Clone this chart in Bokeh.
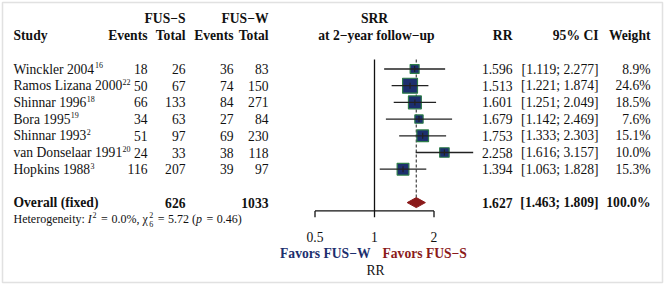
import math
from bokeh.plotting import figure
from bokeh.models import Range1d, LinearScale, ColumnDataSource, BoxAnnotation
from bokeh.core.properties import value
from bokeh.embed import file_html
from bokeh.resources import INLINE

# ---------------- data ----------------
studies = ["Winckler 2004", "Ramos Lizana 2000", "Shinnar 1996", "Bora 1995",
           "Shinnar 1993", "van Donselaar 1991", "Hopkins 1988"]
refs = ["16", "22", "18", "19", "2", "20", "3"]
s_events = [18, 50, 66, 34, 51, 24, 116]
s_total = [26, 67, 133, 63, 97, 33, 207]
w_events = [36, 74, 84, 27, 69, 38, 39]
w_total = [83, 150, 271, 84, 230, 118, 97]
rr = [1.596, 1.513, 1.601, 1.679, 1.753, 2.258, 1.394]
ci_low = [1.119, 1.221, 1.251, 1.142, 1.333, 1.616, 1.063]
ci_high = [2.277, 1.874, 2.049, 2.469, 2.303, 3.157, 1.828]
weights = [8.9, 24.6, 18.5, 7.6, 15.1, 10.0, 15.3]
overall_rr = 1.627
overall_low = 1.463
overall_high = 1.809
overall_s_total = 626
overall_w_total = 1033
i2 = "0.0%"
q_df = "6"
q_stat = "5.72"
q_p = "0.46"
tick_values = [0.5, 1, 2]
tick_labels = ["0.5", "1", "2"]

# ---------------- layout helpers ----------------
W, H = 666, 286
X1, PXU = 374.0, 59.5          # pixel of RR=1, pixels per doubling
Y0, ROW = 68.5, 16.7           # pixel of first row, row height

# Times-compatible advance widths (1/1000 em) for placing inline pieces
_TW = {" ": 250, ".": 250, ",": 250, ":": 278, ";": 278, "=": 564, "%": 833,
       "(": 333, ")": 333, "[": 333, "]": 333, "χ": 549,
       "B": 667, "D": 722, "H": 722, "I": 333, "L": 611, "R": 667, "S": 556,
       "W": 944,
       "a": 444, "b": 500, "c": 444, "d": 500, "e": 444, "f": 333, "g": 500,
       "h": 500, "i": 278, "k": 500, "l": 278, "m": 778, "n": 500, "o": 500,
       "p": 500, "r": 333, "s": 389, "t": 278, "u": 500, "v": 500, "w": 722,
       "y": 500, "z": 444}


def tw(s, size):
    return sum(_TW.get(c, 500) for c in s) / 1000.0 * size


def ry(px):
    return (px - Y0) / ROW


x_lo = 2 ** ((0 - X1) / PXU)
x_hi = 2 ** ((W - X1) / PXU)

p = figure(width=W, height=H, x_axis_type="log",
           x_range=Range1d(x_lo, x_hi), y_range=Range1d(ry(H), ry(0)),
           output_backend="svg", toolbar_location=None, min_border=0)
p.axis.visible = False
p.grid.visible = False
p.outline_line_color = None
p.background_fill_color = "white"
p.extra_x_ranges = {"px": Range1d(0, W)}
p.extra_x_scales = {"px": LinearScale()}

FONT = "Liberation Serif"
FSN = 13.6
FS = f"{FSN}px"
BLACK = "#111111"
NAVY = "#1c2f6e"
GREEN = "#2e7d4a"
DRED = "#8b1a1a"

# frame
p.add_layout(BoxAnnotation(left=2, right=662, top=ry(2), bottom=ry(282),
                           x_range_name="px", fill_alpha=0,
                           line_color="#9a9a9a", line_width=1.5))


def txt(x, y, t, align="left", bold=False, italic=False, size=FS, color=BLACK):
    style = "normal"
    if bold and italic:
        style = "bold italic"
    elif bold:
        style = "bold"
    elif italic:
        style = "italic"
    p.text(x=[x], y=[y], text=[t], x_range_name="px",
           text_font=value(FONT), text_font_size=size, text_font_style=style,
           text_align=align, text_baseline="middle", text_color=color)


C_STUDY, C_SE, C_ST, C_WE, C_WT = 13, 147, 185, 233, 268
C_RR, C_CI, C_WG = 512, 598, 650

# headers
txt(C_ST, -3, "FUS−S", "right", bold=True)
txt(C_WT, -3, "FUS−W", "right", bold=True)
txt(C_STUDY, -2, "Study", "left", bold=True)
txt(C_SE, -2, "Events", "right", bold=True)
txt(C_ST, -2, "Total", "right", bold=True)
txt(C_WE, -2, "Events", "right", bold=True)
txt(C_WT, -2, "Total", "right", bold=True)
txt(374, -3, "SRR", "center", bold=True)
txt(376, -2, "at 2−year follow−up", "center", bold=True)
txt(C_RR, -2, "RR", "right", bold=True)
txt(C_CI, -2, "95% CI", "right", bold=True)
txt(C_WG, -2, "Weight", "right", bold=True)

rows = list(range(len(studies)))
src = ColumnDataSource(dict(
    y=rows, name=studies,
    se=[str(v) for v in s_events], st=[str(v) for v in s_total],
    we=[str(v) for v in w_events], wt=[str(v) for v in w_total],
    rrs=[f"{v:.3f}" for v in rr],
    ci=[f"[{a:.3f}; {b:.3f}]" for a, b in zip(ci_low, ci_high)],
    wts=[f"{v:.1f}%" for v in weights],
))
for col, xp, al in [("name", C_STUDY, "left"), ("se", C_SE, "right"), ("st", C_ST, "right"),
                    ("we", C_WE, "right"), ("wt", C_WT, "right"), ("rrs", C_RR, "right"),
                    ("ci", C_CI, "right"), ("wts", C_WG, "right")]:
    p.text(x=xp, y="y", text=col, source=src, x_range_name="px",
           text_font=value(FONT), text_font_size=FS, text_align=al,
           text_baseline="middle", text_color=BLACK)

# reference superscripts
sup_src = ColumnDataSource(dict(
    x=[C_STUDY + tw(s, FSN) + 0.3 for s in studies],
    y=[r - 0.22 for r in rows], t=refs))
p.text(x="x", y="y", text="t", source=sup_src, x_range_name="px",
       text_font=value(FONT), text_font_size="8px", text_align="left",
       text_baseline="middle", text_color=BLACK)

# overall row
orow = len(studies) + 1
txt(C_STUDY, orow, "Overall (fixed)", "left", bold=True)
txt(C_ST, orow, str(overall_s_total), "right", bold=True)
txt(C_WT, orow, str(overall_w_total), "right", bold=True)
txt(C_RR, orow, f"{overall_rr:.3f}", "right", bold=True)
txt(C_CI, orow, f"[{overall_low:.3f}; {overall_high:.3f}]", "right", bold=True)
txt(C_WG, orow, "100.0%", "right", bold=True)

# heterogeneity: pieces laid out one after another (plotmath-like spacing)
hrow = orow + 1.0
HSN = 12.0
HS = f"{HSN}px"
SSN = 8.0
SS = f"{SSN}px"
EQ = 1.5  # extra space around "="
SP = tw(" ", HSN)


def eq(x):
    x += SP + EQ
    txt(x, hrow, "=", size=HS)
    return x + tw("=", HSN) + SP + 0.5


x = C_STUDY
txt(x, hrow, "Heterogeneity:", size=HS); x += tw("Heterogeneity: ", HSN)
txt(x, hrow, "I", italic=True, size=HS); x += tw("I", HSN) + 0.8
txt(x, hrow - 0.28, "2", size=SS); x += tw("2", SSN)
x = eq(x)
s = f"{i2}, "
txt(x, hrow, s, size=HS); x += tw(s, HSN)
txt(x, hrow, "χ", size=HS); x += tw("χ", HSN) + 0.3
txt(x, hrow - 0.28, "2", size=SS)
txt(x, hrow + 0.28, q_df, size=SS); x += tw("2", SSN)
x = eq(x)
s = f"{q_stat} ("
txt(x, hrow, s, size=HS); x += tw(s, HSN)
txt(x, hrow, "p", italic=True, size=HS); x += tw("p", HSN)
x = eq(x)
txt(x, hrow, f"{q_p})", size=HS)

# forest: reference lines
top = ry(59)
axis_y = orow + 0.5
p.segment(x0=[1], y0=[top], x1=[1], y1=[axis_y], line_color=BLACK, line_width=1.3)
p.segment(x0=[overall_rr], y0=[top], x1=[overall_rr], y1=[orow - 0.3],
          line_color="#444444", line_width=1.2, line_dash="3 2")

# squares + CIs
fsrc = ColumnDataSource(dict(y=rows, rr=rr, lo=ci_low, hi=ci_high,
                             sz=[3.0 * math.sqrt(w) for w in weights]))
p.scatter(x="rr", y="y", size="sz", marker="square", source=fsrc,
          fill_color=NAVY, line_color=GREEN, line_width=1.2)
p.segment(x0="lo", y0="y", x1="hi", y1="y", source=fsrc,
          line_color="#222222", line_width=1.3)
p.scatter(x="rr", y="y", marker="dash", angle=math.pi / 2, size=6, source=fsrc,
          line_color="#222222", line_width=1.2)

# diamond
p.patch(x=[overall_low, overall_rr, overall_high, overall_rr],
        y=[orow, orow - 0.3, orow, orow + 0.3],
        fill_color=DRED, line_color=DRED, line_width=1)

# axis
tick_bottom = ry(216.7)
p.segment(x0=[min(tick_values)], y0=[axis_y], x1=[max(tick_values)], y1=[axis_y],
          line_color=BLACK, line_width=1.3)
p.segment(x0=tick_values, y0=[axis_y] * 3, x1=tick_values, y1=[tick_bottom] * 3,
          line_color=BLACK, line_width=1.3)
p.text(x=tick_values, y=[ry(236.7)] * 3, text=tick_labels,
       text_font=value(FONT), text_font_size=FS, text_align="center",
       text_baseline="middle", text_color=BLACK)

txt(370, ry(253), "Favors FUS−W", "right", bold=True, color=NAVY)
txt(382, ry(253), "Favors FUS−S", "left", bold=True, color=DRED)
txt(375, ry(270), "RR", "center")

open("out.html", "w").write(file_html(p, INLINE))
